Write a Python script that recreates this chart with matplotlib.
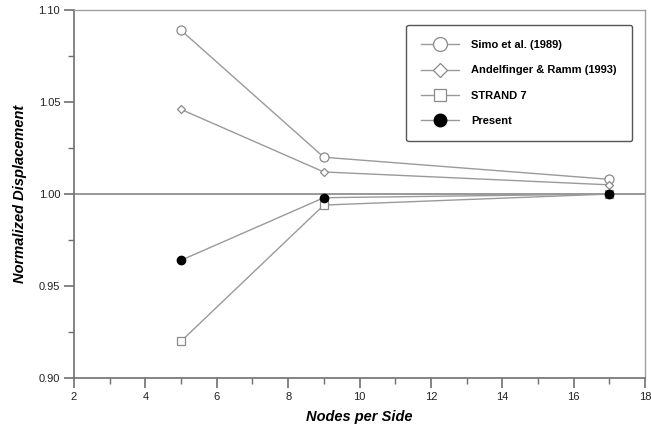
import matplotlib
matplotlib.use("Agg")
import matplotlib.pyplot as plt
from matplotlib.lines import Line2D
from matplotlib.ticker import MultipleLocator

plt.rcParams['font.family'] = ['Liberation Sans', 'DejaVu Sans']

nodes = [5, 9, 17]
simo = [1.089, 1.020, 1.008]
andelfinger = [1.046, 1.012, 1.005]
strand7 = [0.920, 0.994, 1.000]
present = [0.964, 0.998, 1.000]
labels = ["Simo et al. (1989)", "Andelfinger & Ramm (1993)", "STRAND 7", "Present"]

fig = plt.figure(figsize=(6.51, 4.38), dpi=100)
ax = fig.add_axes([0.1137, 0.137, 0.8771, 0.840])

lc = '#9a9a9a'
ec = '#8a8a8a'
ax.axhline(1.0, color='#909090', lw=1.3, zorder=1)
ax.plot(nodes, simo, color=lc, lw=1, marker='o', ms=6.5, mfc='white', mec=ec, mew=0.9, zorder=3)
ax.plot(nodes, andelfinger, color=lc, lw=1, marker='D', ms=4.5, mfc='white', mec=ec, mew=0.9, zorder=3)
ax.plot(nodes, strand7, color=lc, lw=1, marker='s', ms=6.0, mfc='white', mec=ec, mew=0.9, zorder=3)
ax.plot(nodes, present, color=lc, lw=1, marker='o', ms=6.0, mfc='black', mec='black', zorder=4)

ax.set_xlim(2, 18)
ax.set_ylim(0.90, 1.10)
ax.xaxis.set_major_locator(MultipleLocator(2))
ax.xaxis.set_minor_locator(MultipleLocator(1))
ax.yaxis.set_major_locator(MultipleLocator(0.05))
ax.yaxis.set_minor_locator(MultipleLocator(0.025))
ax.yaxis.set_major_formatter(matplotlib.ticker.FormatStrFormatter('%.2f'))

sc = '#707070'
for s in ax.spines.values():
    s.set_color(sc)
    s.set_linewidth(1.2)
ax.spines['top'].set_color('#a0a0a0')
ax.spines['right'].set_color('#a0a0a0')
ax.spines['top'].set_linewidth(1.0)
ax.spines['right'].set_linewidth(1.0)
ax.tick_params(which='major', direction='out', length=7, width=1.2, color=sc, labelsize=8, labelcolor='#222222', pad=3)
ax.tick_params(which='minor', direction='out', length=4, width=1.0, color=sc)
ax.tick_params(top=False, right=False, which='both')

ax.set_xlabel("Nodes per Side", fontsize=10.5, fontweight='bold', style='italic', labelpad=6)
ax.set_ylabel("Normalized Displacement", fontsize=10.5, fontweight='bold', style='italic', labelpad=8)

handles = [
    Line2D([0], [0], color=lc, lw=1, marker='o', ms=10, mfc='white', mec=ec, mew=0.9),
    Line2D([0], [0], color=lc, lw=1, marker='D', ms=7, mfc='white', mec=ec, mew=0.9),
    Line2D([0], [0], color=lc, lw=1, marker='s', ms=9, mfc='white', mec=ec, mew=0.9),
    Line2D([0], [0], color=lc, lw=1, marker='o', ms=9, mfc='black', mec='black'),
]
leg = ax.legend(handles, labels, loc='upper right', bbox_to_anchor=(0.977, 0.959),
                prop={'weight': 'bold', 'size': 8.0}, handlelength=3.4, handletextpad=1.1,
                labelspacing=1.38, borderpad=1.35, fancybox=True, framealpha=1,
                edgecolor='#555555', borderaxespad=0)
leg.get_frame().set_linewidth(1.0)

fig.savefig("out.png", dpi=100)
